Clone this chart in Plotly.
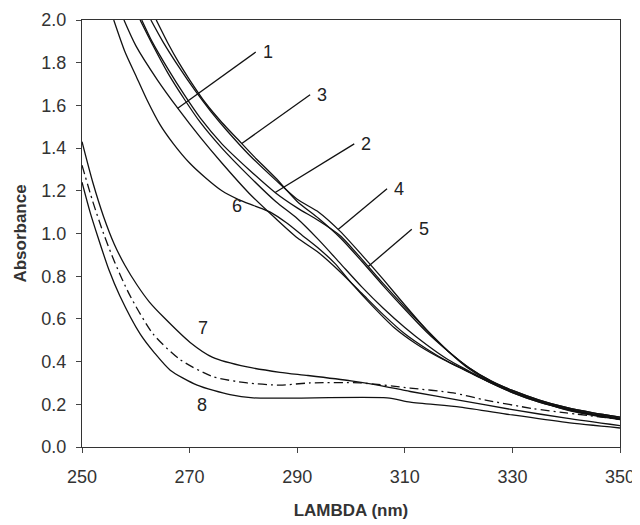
import numpy as np
import plotly.graph_objects as go

# spectra (wavelength nm, absorbance)
wl1 = [257.8, 260, 264, 268, 272, 276, 281, 286, 290, 294, 298, 302, 306, 310, 314, 318, 322, 326, 330, 335, 340, 345, 350]
ab1 = [2.0, 1.88, 1.72, 1.58, 1.45, 1.33, 1.19, 1.07, 0.98, 0.91, 0.82, 0.72, 0.62, 0.53, 0.46, 0.40, 0.35, 0.30, 0.255, 0.21, 0.176, 0.15, 0.13]

wl2 = [260.8, 263, 266, 269, 272, 276, 281, 286, 290, 294, 298, 302, 306, 310, 314, 318, 322, 326, 330, 335, 340, 345, 350]
ab2 = [2.0, 1.89, 1.75, 1.63, 1.52, 1.40, 1.27, 1.15, 1.07, 0.97, 0.86, 0.75, 0.65, 0.56, 0.48, 0.41, 0.355, 0.30, 0.255, 0.21, 0.178, 0.152, 0.132]

wl3 = [263.8, 266, 268, 270, 273, 276, 279, 282, 286, 290, 294, 298, 302, 306, 310, 314, 318, 322, 326, 330, 335, 340, 345, 350]
ab3 = [2.0, 1.89, 1.80, 1.72, 1.61, 1.52, 1.44, 1.36, 1.26, 1.15, 1.07, 0.98, 0.87, 0.755, 0.645, 0.54, 0.45, 0.37, 0.31, 0.265, 0.22, 0.185, 0.16, 0.14]

wl4 = [262.8, 265, 268, 271, 274, 277, 281, 286, 290, 294, 298, 302, 306, 310, 314, 318, 322, 326, 330, 335, 340, 345, 350]
ab4 = [2.0, 1.90, 1.78, 1.67, 1.57, 1.48, 1.37, 1.25, 1.16, 1.10, 1.01, 0.90, 0.785, 0.665, 0.55, 0.45, 0.37, 0.31, 0.265, 0.22, 0.185, 0.16, 0.14]

wl5 = [261.1, 263, 266, 269, 272, 276, 281, 286, 290, 294, 298, 302, 306, 310, 314, 318, 322, 326, 330, 335, 340, 345, 350]
ab5 = [2.0, 1.90, 1.77, 1.65, 1.54, 1.42, 1.30, 1.19, 1.12, 1.06, 0.99, 0.88, 0.765, 0.655, 0.55, 0.45, 0.365, 0.305, 0.26, 0.215, 0.18, 0.155, 0.135]

wl6 = [255.9, 258, 260, 262, 264.5, 267, 270, 273, 276, 279, 282, 285, 288, 291, 294, 297, 300, 304, 308, 312, 316, 320, 324, 328, 332, 336, 340, 345, 350]
ab6 = [2.0, 1.85, 1.74, 1.63, 1.51, 1.42, 1.33, 1.26, 1.20, 1.16, 1.13, 1.10, 1.05, 0.99, 0.93, 0.86, 0.77, 0.66, 0.56, 0.485, 0.425, 0.375, 0.325, 0.28, 0.24, 0.205, 0.174, 0.148, 0.128]

wl7 = [250, 252, 254, 256, 258, 260.2, 262.5, 265.1, 270.1, 274.3, 280.7, 286.8, 292, 300, 305, 311, 320, 330, 340, 350]
ab7 = [1.43, 1.24, 1.08, 0.95, 0.85, 0.76, 0.68, 0.61, 0.49, 0.42, 0.375, 0.35, 0.335, 0.31, 0.29, 0.26, 0.22, 0.175, 0.135, 0.10]

wl8 = [250, 251.5, 253, 255, 257, 260.8, 263.5, 266.4, 271.4, 277.5, 281.8, 306.7, 311, 320.3, 330, 340, 350]
ab8 = [1.24, 1.10, 0.98, 0.83, 0.71, 0.53, 0.44, 0.36, 0.29, 0.245, 0.23, 0.23, 0.21, 0.187, 0.15, 0.115, 0.089]

wl_dd = [250, 252, 254, 256, 258.9, 263.2, 268.2, 274.3, 280.7, 286.8, 292.4, 301.7, 311, 319, 325, 333.8, 340, 350]
ab_dd = [1.32, 1.15, 1.00, 0.87, 0.71, 0.53, 0.41, 0.33, 0.30, 0.29, 0.30, 0.30, 0.276, 0.253, 0.22, 0.18, 0.16, 0.13]

x_ticks = [250, 270, 290, 310, 330, 350]
y_ticks = [0.0, 0.2, 0.4, 0.6, 0.8, 1.0, 1.2, 1.4, 1.6, 1.8, 2.0]

curves = [(wl1, ab1), (wl2, ab2), (wl3, ab3), (wl4, ab4), (wl5, ab5), (wl6, ab6), (wl7, ab7), (wl8, ab8)]

fig = go.Figure()
for wl, ab in curves:
    fig.add_trace(go.Scatter(x=wl, y=ab, mode="lines",
                             line=dict(color="#111", width=1.3, shape="spline", smoothing=0.7)))
fig.add_trace(go.Scatter(x=wl_dd, y=ab_dd, mode="lines",
                         line=dict(color="#111", width=1.3, dash="9px,4px,2px,4px",
                                   shape="spline", smoothing=0.7)))

# labels with leader lines: (label, curve, wavelength on curve, label end x, y)
leaders = [("1", 0, 267.8, 282.3, 1.85),
           ("3", 2, 279.7, 292.4, 1.65),
           ("2", 4, 285.9, 300.6, 1.42),
           ("4", 3, 297.6, 306.7, 1.21),
           ("5", 4, 303.2, 311.3, 1.02)]
for lab, ci, w, xe, ye in leaders:
    wl, ab = curves[ci]
    y0 = float(np.interp(w, wl, ab))
    fig.add_shape(type="line", x0=w, y0=y0, x1=xe, y1=ye,
                  line=dict(color="#111", width=1.3))
    fig.add_annotation(x=xe, y=ye, text=lab, showarrow=False, xanchor="left",
                       xshift=5, font=dict(size=18, color="#222"))

for lab, xl, yl in [("6", 278.8, 1.13), ("7", 272.5, 0.557), ("8", 272.3, 0.197)]:
    fig.add_annotation(x=xl, y=yl, text=lab, showarrow=False,
                       font=dict(size=18, color="#222"))

fig.update_layout(
    width=640, height=525,
    margin=dict(l=74, r=28, t=12, b=86),
    plot_bgcolor="white", paper_bgcolor="white",
    showlegend=False,
    font=dict(family="Liberation Sans, Arial", size=18, color="#333"),
)
fig.update_xaxes(range=[250, 350], tickvals=x_ticks, ticks="outside", ticklen=5,
                 tickfont=dict(size=18), ticklabelstandoff=8, automargin=False,
                 showgrid=False, zeroline=False, showline=True, linecolor="#333",
                 linewidth=1.2, mirror=True,
                 title=dict(text="<b>LAMBDA (nm)</b>", font=dict(size=17, color="#333"), standoff=18))
fig.update_yaxes(range=[0, 2.0], tickvals=y_ticks, tickformat=".1f", ticks="outside",
                 ticklen=5, tickfont=dict(size=18), ticklabelstandoff=6, automargin=False,
                 showgrid=False, zeroline=False, showline=True, linecolor="#333",
                 linewidth=1.2, mirror=True,
                 title=dict(text="<b>Absorbance</b>", font=dict(size=17, color="#333"), standoff=10))

fig.write_html("out.html")
